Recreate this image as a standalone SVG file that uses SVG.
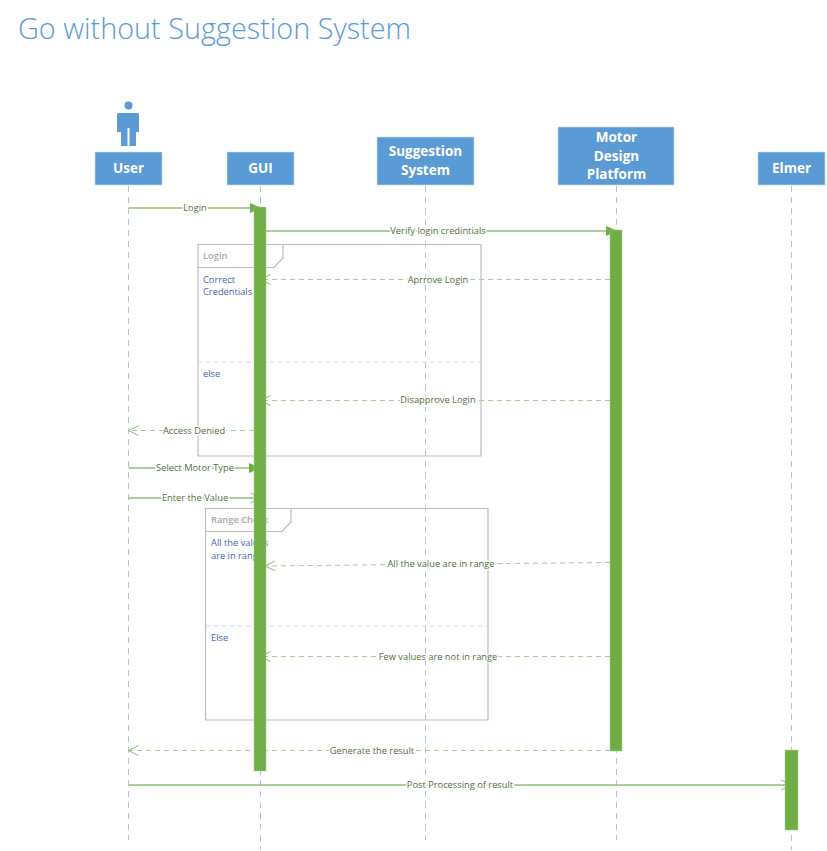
<svg xmlns="http://www.w3.org/2000/svg" width="827" height="851" viewBox="0 0 827 851">
<style>
.t{font-family:"Open Sans","Liberation Sans",sans-serif}
.box{fill:#5b9bd5;stroke:#c5dcf0;stroke-width:.6}
.nl{font:700 13.5px "Open Sans","Liberation Sans",sans-serif;fill:#fff;text-anchor:middle}
.life{stroke:#a9c4dd;stroke-width:1;stroke-dasharray:6 5;fill:none}
.act{fill:#70ad47;stroke:#a9d18e;stroke-width:.5}
.sync{stroke:#93bd78;stroke-width:1.3;fill:none}
.ret{stroke:#a6c98f;stroke-width:1;stroke-dasharray:5 4;fill:none}
.lbl{font:9.300px "Open Sans","Liberation Sans",sans-serif;fill:#4e6f3a;text-anchor:middle;paint-order:stroke;stroke:#fff;stroke-width:3}
.frame{fill:none;stroke:#bcbcbc;stroke-width:1.200}
.sep{stroke:#cfd8e8;stroke-width:1;stroke-dasharray:5 3;fill:none}
.fn{font:600 9.300px "Open Sans","Liberation Sans",sans-serif;fill:#a6a6a6}
.cond{font:9.300px "Open Sans","Liberation Sans",sans-serif;fill:#3e66ae}
</style>
<defs>
<marker id="fill" markerUnits="userSpaceOnUse" markerWidth="13" markerHeight="12" refX="12" refY="6" orient="auto"><path d="M0 1L12 6L0 11z" fill="#70ad47"/></marker>
<marker id="open" markerUnits="userSpaceOnUse" markerWidth="14" markerHeight="14" refX="11" refY="7" orient="auto"><path d="M1 2L11 7L1 12" fill="none" stroke="#8fbc74" stroke-width="1"/></marker>
</defs>
<text class="t" x="18" y="39" font-size="29" font-weight="300" fill="#5b9bd5" textLength="393" lengthAdjust="spacingAndGlyphs">Go without Suggestion System</text>
<g id="lifelines">
<path class="life" d="M128.500 186V840"/><path class="life" d="M260.500 186V850"/><path class="life" d="M425.500 186V840"/><path class="life" d="M616.500 186V840"/><path class="life" d="M791.500 186V850"/>
</g>
<g id="frame-login">
<path class="frame" d="M198 244.500H481V456H198Z"/><path class="frame" d="M198 267.500H274L283 258V244.500"/>
<text class="fn" x="203" y="259">Login</text>
<text class="cond" x="203" y="283">Correct</text><text class="cond" x="203" y="295">Credentials</text>
<path class="sep" d="M198 362H481"/>
<text class="cond" x="203" y="377">else</text>
</g>
<g id="frame-range">
<path class="frame" d="M205.500 508.500H488V720H205.500Z"/><path class="frame" d="M205.500 531.500H282L291 522V508.500"/>
<text class="fn" x="211" y="523">Range Check</text>
<text class="cond" x="211" y="546">All the values</text><text class="cond" x="211" y="559">are in range</text>
<path class="sep" d="M205.500 626H488"/>
<text class="cond" x="211" y="641">Else</text>
</g>
<g id="connectors">
<path class="sync" d="M128.500 208H262" marker-end="url(#fill)"/>
<path class="sync" d="M266 231H618" marker-end="url(#fill)"/>
<path class="ret" d="M610 279.500H260.500" marker-end="url(#open)"/>
<path class="ret" d="M610 400.500H260.500" marker-end="url(#open)"/>
<path class="ret" d="M254 430.500H128.500" marker-end="url(#open)"/>
<path class="sync" d="M128.500 468H261" marker-end="url(#fill)"/>
<path class="sync" d="M128.500 498H260.500" marker-end="url(#open)"/>
<path class="ret" d="M610 562.500L265 566" marker-end="url(#open)"/>
<path class="ret" d="M610 656.500H260.500" marker-end="url(#open)"/>
<path class="ret" d="M610 750.500H128.500" marker-end="url(#open)"/>
<path class="sync" d="M128.500 785H791" marker-end="url(#open)"/>
<text class="lbl" x="195" y="211">Login</text>
<text class="lbl" x="438" y="234">Verify login credintials</text>
<text class="lbl" x="438" y="283">Aprrove Login</text>
<text class="lbl" x="438" y="403">Disapprove Login</text>
<text class="lbl" x="194" y="434">Access Denied</text>
<text class="lbl" x="195" y="471">Select Motor Type</text>
<text class="lbl" x="195" y="501">Enter the Value</text>
<text class="lbl" x="441" y="567">All the value are in range</text>
<text class="lbl" x="438" y="660">Few values are not in range</text>
<text class="lbl" x="372" y="754">Generate the result</text>
<text class="lbl" x="460" y="788">Post Processing of result</text>
</g>
<g id="user">
<circle cx="128.500" cy="105.500" r="4" fill="#5b9bd5"/>
<path d="M119 113H138Q139 113 139 114V132H136V146H129.500V128H127.500V146H121V132H117V114Q117 113 119 113Z" fill="#5b9bd5"/>
<rect class="box" x="95" y="152" width="67" height="33"/><text class="nl" x="128.500" y="173">User</text>
</g>
<g id="gui">
<rect class="box" x="227" y="152" width="67" height="33"/><text class="nl" x="260.500" y="173">GUI</text>
<rect class="act" x="254" y="207" width="12" height="564"/>
</g>
<g id="suggestion-system">
<rect class="box" x="377" y="137" width="97" height="48"/><text class="nl" x="425.500" y="156">Suggestion</text><text class="nl" x="425.500" y="175">System</text>
</g>
<g id="motor-design-platform">
<rect class="box" x="558" y="127" width="116" height="58"/><text class="nl" x="616.500" y="142">Motor</text><text class="nl" x="616.500" y="161">Design</text><text class="nl" x="616.500" y="179">Platform</text>
<rect class="act" x="610" y="230" width="12" height="521"/>
</g>
<g id="elmer">
<rect class="box" x="758" y="152" width="67" height="33"/><text class="nl" x="791.500" y="173">Elmer</text>
<rect class="act" x="785" y="750" width="13" height="80"/>
</g>
</svg>
